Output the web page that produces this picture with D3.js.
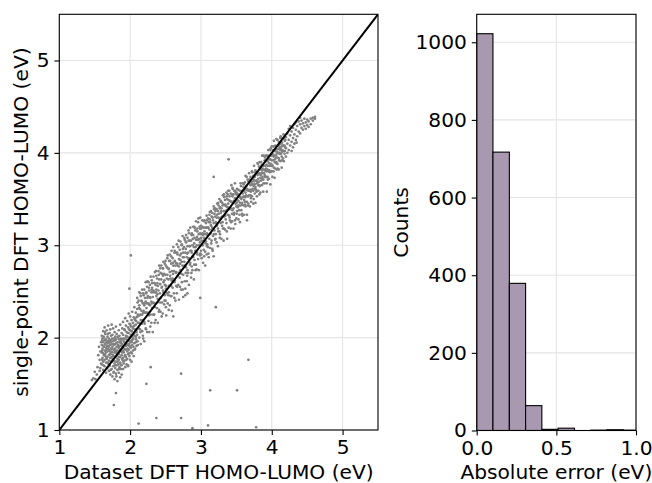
<!DOCTYPE html>
<html><head><meta charset="utf-8">
<script src="https://cdn.jsdelivr.net/npm/d3@7"></script>
<style>body{margin:0;background:#fff} text{font-family:"DejaVu Sans",sans-serif}</style>
</head><body><svg id="c" width="652" height="483"></svg>
<script>
const scatterTicks = [1, 2, 3, 4, 5];
const histXTicks = [0, 0.5, 1.0];
const histYTicks = [0, 200, 400, 600, 800, 1000];
const errorBinEdges = [0, 0.102, 0.205, 0.307, 0.409, 0.511, 0.614, 0.716, 0.818, 0.920, 1.023];
const errorCounts = [1022, 717, 379, 64, 3, 6, 0, 1, 2, 1];
const xLabel = "Dataset DFT HOMO-LUMO (eV)";
const yLabel = "single-point DFT HOMO-LUMO (eV)";
const histXLabel = "Absolute error (eV)";
const histYLabel = "Counts";

// [dataset gap, [single-point gaps...]]
const scatterColumns = [
[1.46,[1.54]],[1.48,[1.56]],[1.50,[1.63]],[1.51,[1.55]],[1.53,[1.60]],[1.54,[1.68]],[1.55,[1.81]],[1.56,[1.90]],[1.57,[1.64,1.76]],[1.58,[1.85,1.67]],[1.59,[1.95,1.72]],
[1.60,[1.92,1.71,2.02,1.84]],[1.61,[1.78,1.99,1.88]],[1.62,[2.07,1.83,1.65,1.95,1.74]],[1.63,[1.90,1.81,2.00]],[1.64,[1.69,1.97,1.86,1.76,2.11]],
[1.65,[1.93,2.04,1.80]],[1.66,[1.73,1.89,1.98,1.62,1.84]],[1.67,[2.08,1.91,1.77]],[1.68,[1.85,1.67,1.96,2.01,1.79]],[1.69,[1.94,1.72,1.88,2.13]],
[1.70,[1.81,1.99,1.64,1.90,1.75]],[1.71,[2.05,1.86,1.70,1.95]],[1.72,[1.78,1.92,1.60,2.09,1.83]],[1.73,[1.97,1.74,1.88,2.02]],[1.74,[1.66,1.85,1.93,1.79,2.14]],
[1.75,[1.90,1.58,2.03,1.77,1.84]],[1.76,[1.69,1.96,1.81,2.10]],[1.77,[1.87,1.63,1.75,1.99,1.92]],[1.78,[2.06,1.72,1.84,1.55]],[1.79,[1.93,1.79,1.67,2.01,1.88]],
[1.80,[1.74,1.98,1.61,1.85,2.12]],[1.81,[1.90,1.70,1.80,2.04]],[1.82,[1.65,1.95,1.77,1.86,1.53]],[1.83,[2.00,1.83,1.71,1.92]],[1.84,[1.76,2.08,1.62,1.89,1.82]],
[1.85,[1.95,1.68,1.86,2.02]],[1.86,[1.79,1.57,1.91,1.73,2.14]],[1.87,[1.99,1.85,1.66,1.94]],[1.88,[1.70,2.05,1.81,1.88,1.60]],[1.89,[1.93,1.76,2.10,1.84]],
[1.90,[1.78,2.03,1.90,1.66,2.17]],[1.91,[1.96,1.84,1.72]],[1.92,[2.09,1.88,1.99,1.75]],[1.93,[1.81,2.21,1.93,1.68]],[1.94,[2.02,1.87,2.13,1.79]],
[1.95,[1.93,1.71,2.06,1.98]],[1.96,[1.85,2.18,1.77,2.01]],[1.97,[2.11,1.92,1.82,1.69]],[1.98,[1.97,2.26,1.87,2.05]],[1.99,[1.80,2.00,2.15,1.91]],
[2.00,[2.08,1.76,1.95,2.23]],[2.01,[1.89,2.03,1.84,2.12]],[2.02,[2.19,1.97,1.74,2.07]],[2.03,[1.92,2.28,2.01]],[2.04,[2.10,1.86,2.16,1.98]],
[2.05,[2.03,2.22,1.80]],[2.06,[1.94,2.13,2.33,2.05]],[2.07,[2.19,1.88,2.09]],[2.08,[2.01,2.27,1.95,2.14]],[2.09,[2.22,1.91,2.06]],
[2.10,[2.31,2.03,2.43]],[2.11,[2.16,1.92,2.25]],[2.12,[2.40,2.10]],[2.13,[2.24,2.49,2.00,2.35]],[2.14,[2.09,2.31]],
[2.15,[2.45,2.19,1.93]],[2.16,[2.29,2.40]],[2.17,[2.07,2.52,2.25]],[2.18,[2.37,2.02,2.19]],[2.19,[2.46,2.29]],
[2.20,[2.17,2.52,2.35,1.96]],[2.21,[2.43,2.27]],[2.22,[2.10,2.60,2.39]],[2.23,[2.32,2.49]],[2.24,[2.06,2.37,2.55]],
[2.25,[2.27,2.45]],[2.26,[2.60,2.18,2.37]],[2.27,[2.51,2.06]],[2.28,[2.35,2.57,2.44]],[2.29,[2.25,2.66]],
[2.30,[2.49,2.16,2.39]],[2.31,[2.59,2.32,2.54]],[2.32,[2.06,2.44]],[2.33,[2.66,2.38,2.51]],[2.34,[2.25,2.59]],
[2.35,[2.49,2.71,2.33]],[2.36,[2.57,2.19]],[2.37,[2.45,2.67,2.52]],[2.38,[2.32,2.64]],[2.39,[2.56,2.16,2.42]],
[2.40,[2.72,2.51]],[2.41,[2.30,2.63,2.78]],[2.42,[2.48,2.58]],[2.43,[2.70,2.28,2.43]],[2.44,[2.63,2.78]],
[2.45,[2.38,2.55,2.69]],[2.46,[2.75,2.26]],[2.47,[2.60,2.49,2.82]],[2.48,[2.36,2.69]],[2.49,[2.57,2.80,2.46]],
[2.50,[2.68,2.40,2.83]],[2.51,[2.56,2.24]],[2.52,[2.76,2.64,2.48]],[2.53,[2.89,2.37]],[2.54,[2.63,2.75,2.46]],
[2.55,[2.83,2.56]],[2.56,[2.35,2.71,2.90]],[2.57,[2.64,2.45]],[2.58,[2.80,2.88,2.56]],[2.59,[2.72,2.29]],
[2.60,[2.86,2.54,2.64]],[2.61,[2.78,2.23,2.98]],[2.62,[2.48,2.72]],[2.63,[2.94,2.83,2.62]],[2.64,[2.40,2.78]],
[2.65,[2.71,2.92,2.56]],[2.66,[3.01,2.48]],[2.67,[2.78,2.90,2.67]],[2.68,[2.57,2.98]],[2.69,[2.85,2.41,2.77]],
[2.70,[2.95,2.65]],[2.71,[2.73,3.04,2.84]],[2.72,[2.52,2.91]],[2.73,[2.82,2.60,3.01]],[2.74,[3.10,2.78]],
[2.75,[2.68,2.92,2.44]],[2.76,[2.98,2.87]],[2.77,[2.61,3.06,2.78]],[2.78,[2.92,2.53]],[2.79,[3.03,2.76,3.11]],
[2.80,[2.87,2.61]],[2.81,[2.99,3.08,2.73]],[2.82,[2.70,2.92]],[2.83,[3.13,2.86,2.57]],[2.84,[2.99,3.05]],
[2.85,[2.81,3.19,2.94]],[2.86,[2.65,3.05]],[2.87,[3.13,2.92,2.77]],[2.88,[3.00,2.73]],[2.89,[3.11,3.20,2.87]],
[2.90,[2.98,2.63]],[2.91,[3.08,2.84,3.19]],[2.92,[2.94,3.16]],[2.93,[2.79,3.06,3.26]],[2.94,[3.00,2.74]],
[2.95,[3.15,2.90,3.06]],[2.96,[3.25,2.85]],[2.97,[3.12,3.00,2.73]],[2.98,[3.20,3.07]],[2.99,[2.91,3.30,3.13]],
[3.00,[3.12,2.94,3.21]],[3.01,[2.86,3.05]],[3.02,[3.20,3.00,3.27]],[3.03,[3.11,2.81]],[3.04,[3.19,2.95,3.05]],
[3.05,[3.27,3.15]],[3.06,[2.93,3.12,2.78]],[3.07,[3.24,3.04]],[3.08,[3.19,3.32,2.90]],[3.09,[3.11,3.01]],
[3.10,[3.29,2.98,3.19]],[3.11,[3.25,2.87]],[3.12,[3.07,3.33,3.17]],[3.13,[3.25,2.97]],[3.14,[3.37,3.13,3.22]],
[3.15,[3.05,3.31]],[3.16,[3.19,2.96,3.35]],[3.17,[3.27,3.10]],[3.18,[3.42,2.88,3.24]],[3.19,[3.34,3.16]],
[3.20,[3.06,3.31,3.40]],[3.21,[3.25,3.12]],[3.22,[3.39,3.03,3.30]],[3.23,[3.45,3.23]],[3.24,[3.18,3.37,2.99]],
[3.25,[3.34,3.43]],[3.26,[3.15,3.29,3.50]],[3.27,[3.41,3.12]],[3.28,[3.35,3.24,3.48]],[3.29,[3.07,3.40]],
[3.30,[3.46,3.31,3.21]],[3.31,[3.54,3.18]],[3.32,[3.37,3.44,3.05]],[3.33,[3.31,3.52]],[3.34,[3.43,3.17,3.49]],
[3.35,[3.37,3.28]],[3.36,[3.57,3.24,3.42]],[3.37,[3.50,3.07]],[3.38,[3.33,3.55,3.41]],[3.39,[3.49,3.19]],
[3.40,[3.59,3.32,3.40]],[3.41,[3.48,3.27]],[3.42,[3.56,3.40,3.18]],[3.43,[3.65,3.47]],[3.44,[3.34,3.55,3.26]],
[3.45,[3.46,3.61]],[3.46,[3.40,3.18,3.55]],[3.47,[3.59,3.35]],[3.48,[3.51,3.67,3.27]],[3.49,[3.45,3.57]],
[3.50,[3.42,3.55,3.29]],[3.51,[3.49,3.37,3.61]],[3.52,[3.41,3.54]],[3.53,[3.28,3.48,3.60]],[3.54,[3.38,3.53]],
[3.55,[3.59,3.46,3.25]],[3.56,[3.43,3.67,3.52]],[3.57,[3.38,3.50]],[3.58,[3.59,3.46,3.34]],[3.59,[3.56,3.67]],
[3.60,[3.43,3.52,3.63]],[3.61,[3.33,3.59,3.49]],[3.62,[3.68,3.47]],[3.63,[3.57,3.42,3.75]],[3.64,[3.54,3.64]],
[3.65,[3.47,3.61,3.33]],[3.66,[3.71,3.53]],[3.67,[3.59,3.45,3.69]],[3.68,[3.54,3.67,3.78]],[3.69,[3.42,3.60]],
[3.70,[3.65,3.54,3.74]],[3.71,[3.60,3.47]],[3.72,[3.80,3.69,3.53]],[3.73,[3.61,3.66]],[3.74,[3.45,3.75,3.59]],
[3.75,[3.69,3.86]],[3.76,[3.56,3.66,3.74]],[3.77,[3.81,3.63,3.46]],[3.78,[3.70,3.60]],[3.79,[3.79,3.67,3.53]],
[3.80,[3.76,3.89]],[3.81,[3.65,3.72,3.59]],[3.82,[3.85,3.69]],[3.83,[3.77,3.64,3.90]],[3.84,[3.73,3.57,3.82]],
[3.85,[3.90,3.70]],[3.86,[3.78,3.65,3.87]],[3.87,[3.74,3.83]],[3.88,[3.97,3.71,3.58]],[3.89,[3.82,3.78]],
[3.90,[3.92,3.67,3.76]],[3.91,[3.86,3.97]],[3.92,[3.74,3.83,3.91]],[3.93,[3.67,3.97]],[3.94,[3.82,3.91,3.74]],
[3.95,[4.03,3.80]],[3.96,[3.89,3.72,3.96]],[3.97,[3.86,3.79]],[3.98,[4.03,3.93,3.66]],[3.99,[3.86,3.97]],
[4.00,[3.80,3.92,4.07]],[4.01,[3.86,3.74]],[4.02,[4.03,3.92,3.98]],[4.03,[3.84,4.13]],[4.04,[3.97,3.90,3.73]],
[4.05,[4.08,3.83]],[4.06,[3.95,4.04,3.89]],[4.07,[4.01,3.82]],[4.08,[4.14,3.95,3.88]],[4.09,[4.00,4.08]],
[4.10,[3.94,3.82,4.12]],[4.11,[4.06,3.99]],[4.12,[3.91,4.16,4.03]],[4.13,[3.99,4.10]],[4.14,[3.96,4.07,3.84]],
[4.15,[4.16,4.03]],[4.16,[3.94,4.08]],[4.17,[4.02,4.15,3.91]],[4.18,[4.08,3.99]],[4.19,[4.14,4.06]],
[4.20,[4.17,4.05,3.96]],[4.22,[4.21,4.10,4.00]],[4.24,[4.14,4.26,4.03]],[4.26,[4.19,4.08,4.29]],[4.28,[4.23,4.12,4.02]],
[4.30,[4.27,4.16,4.06]],[4.32,[4.20,4.31,4.10]],[4.34,[4.25,4.14,4.33]],[4.36,[4.29,4.18]],[4.38,[4.23,4.34]],
[4.40,[4.31,4.21,4.38]],[4.42,[4.27,4.35]],[4.44,[4.32,4.25]],[4.46,[4.37,4.29]],[4.48,[4.33,4.26]],
[4.50,[4.36,4.30]],[4.52,[4.34,4.28]],[4.55,[4.37,4.31]],[4.58,[4.35,4.38]],[4.61,[4.39,4.37]]
];

// further points read between the columns above
const scatterColumnsExtra = [
[1.605,[1.86,1.97,1.76]],[1.625,[1.91,1.70,2.01]],[1.645,[1.82,1.93,2.06]],[1.665,[1.95,1.78,1.87]],[1.685,[1.73,1.91,2.04]],
[1.705,[1.86,1.97,1.69]],[1.725,[1.95,1.82,1.65]],[1.745,[1.88,1.99,1.74]],[1.765,[1.80,1.93,1.62]],[1.785,[1.97,1.70,1.87]],
[1.805,[1.83,1.94,1.58]],[1.825,[1.90,1.74,2.01]],[1.845,[1.79,1.98,1.66]],[1.865,[1.87,1.96,1.71]],[1.885,[1.98,1.77,1.91]],
[1.905,[1.86,1.99,1.74]],[1.925,[1.95,1.80,2.08]],[1.945,[1.91,2.01,1.76]],[1.965,[2.05,1.88,1.97]],[1.985,[1.93,2.09,1.83]],
[2.005,[2.00,1.90,2.14]],[2.025,[2.07,1.95,1.83]],[2.045,[1.99,2.12,1.90]],[2.065,[2.20,2.02,1.87]],[2.085,[2.08,1.98,2.18]],
[2.105,[2.23,1.96,2.38]],[2.125,[2.16,2.32]],[2.145,[2.06,2.48,2.25]],[2.165,[2.39,2.15]],[2.185,[2.27,2.48,1.99]],
[2.205,[2.37,2.15]],[2.225,[2.48,2.27,2.09]],[2.245,[2.61,2.43]],[2.265,[2.24,2.36,2.54]],[2.285,[2.43,2.12]],
[2.305,[2.62,2.37,2.52]],[2.325,[2.25,2.49]],[2.345,[2.59,2.37,2.16]],[2.365,[2.49,2.72]],[2.385,[2.38,2.59,2.47]],
[2.405,[2.68,2.28]],[2.425,[2.58,2.75,2.38]],[2.445,[2.54,2.23]],[2.465,[2.67,2.51,2.75]],[2.485,[2.62,2.40]],
[2.505,[2.78,2.53,2.33]],[2.525,[2.68,2.86]],[2.545,[2.49,2.74,2.30]],[2.565,[2.67,2.83]],[2.585,[2.62,2.45,2.94]],
[2.605,[2.81,2.69]],[2.625,[2.60,2.92,2.43]],[2.645,[2.81,2.70]],[2.665,[2.92,2.55,2.80]],[2.685,[3.05,2.70]],
[2.705,[2.55,2.89,2.80]],[2.725,[3.00,2.69]],[2.745,[2.87,2.52,2.96]],[2.765,[2.82,3.08]],[2.785,[2.70,2.96,3.04]],
[2.805,[2.91,2.67]],[2.825,[3.05,2.85,3.16]],[2.845,[2.79,2.99]],[2.865,[3.11,2.70,2.94]],[2.885,[3.07,2.88]],
[2.905,[3.20,3.02,2.79]],[2.925,[2.98,2.73]],[2.945,[3.18,3.09,2.92]],[2.965,[3.06,3.29]],[2.985,[2.89,3.18,3.03]],
[3.005,[3.08,3.18,2.90]],[3.025,[3.00,3.13]],[3.045,[3.26,2.88,3.08]],[3.065,[3.19,3.02]],[3.085,[3.13,3.27,2.99]],
[3.105,[2.91,3.19]],[3.125,[3.28,3.12,3.36]],[3.145,[3.21,3.02]],[3.165,[3.30,3.17,2.94]],[3.185,[3.39,3.12]],
[3.205,[3.24,3.37,3.07]],[3.225,[3.33,3.21]],[3.245,[3.46,3.15,3.30]],[3.265,[3.08,3.40]],[3.285,[3.37,3.30,3.47]],
[3.305,[3.25,3.43]],[3.325,[3.55,3.18,3.37]],[3.345,[3.44,3.32]],[3.365,[3.53,3.15,3.38]],[3.385,[3.45,3.59]],
[3.405,[3.30,3.53,3.39]],[3.425,[3.47,3.25]],[3.445,[3.62,3.38,3.53]],[3.465,[3.48,3.33]],[3.485,[3.59,3.48,3.23]],
[3.505,[3.46,3.34,3.57]],[3.525,[3.43,3.55]],[3.545,[3.52,3.33,3.43]],[3.565,[3.64,3.51]],[3.585,[3.44,3.58,3.32]],
[3.605,[3.53,3.66]],[3.625,[3.44,3.52,3.61]],[3.645,[3.60,3.74]],[3.665,[3.53,3.43,3.60]],[3.685,[3.71,3.59]],
[3.705,[3.51,3.68,3.58]],[3.725,[3.66,3.79]],[3.745,[3.64,3.50,3.71]],[3.765,[3.61,3.79]],[3.785,[3.70,3.58,3.78]],
[3.805,[3.68,3.88]],[3.825,[3.78,3.65,3.55]],[3.845,[3.85,3.76]],[3.865,[3.72,3.81,3.97]],[3.885,[3.67,3.86]],
[3.905,[3.81,3.74,3.95]],[3.925,[3.87,3.80]],[3.945,[3.97,3.86,3.71]],[3.965,[3.81,3.93]],[3.985,[3.88,4.05,3.80]],
[4.005,[3.99,3.87]],[4.025,[3.80,3.96,4.07]],[4.045,[3.93,4.02]],[4.065,[3.90,4.15,3.98]],[4.085,[4.04,3.83]],
[4.105,[4.00,4.09,3.92]],[4.125,[4.18,4.05]],[4.145,[4.01,4.11,3.92]],[4.165,[4.08,4.20]],[4.185,[4.02,4.13]]
];

const outlierPoints = [
[2.01,2.89],[3.18,3.74],[3.39,3.93],[2.99,2.43],[3.21,2.33],[1.99,2.53],[3.67,1.76],[2.72,1.61],
[2.29,1.68],[2.23,1.50],[3.13,1.43],[3.51,1.43],[1.80,1.40],[1.77,1.27],[2.37,1.13],[2.72,1.13],
[2.12,1.07],[3.10,1.05],[2.88,1.02],[3.78,1.03],[1.97,1.70],[2.81,2.48],[2.78,2.46],[3.65,3.27],
[3.93,3.58],[4.35,4.11]
];

const points = scatterColumns.concat(scatterColumnsExtra)
  .flatMap(([xv, ys]) => ys.map(yv => [xv, yv])).concat(outlierPoints);

const FS = 20.2, TICK = 4.9, PAD = 4.9;
const gridColor = "#e5e5e5";
const svg = d3.select("#c");
svg.append("rect").attr("width", 652).attr("height", 483).attr("fill", "#fff");

const L = {left: 59.3, right: 378, top: 14.3, bottom: 430};
const H = {left: 476.7, right: 636, top: 14.3, bottom: 430.5};
const x = d3.scaleLinear().domain([1, 5.5]).range([L.left, L.right]);
const y = d3.scaleLinear().domain([1, 5.5]).range([L.bottom, L.top]);
const hx = d3.scaleLinear().domain([0, 1]).range([H.left, H.right]);
const hy = d3.scaleLinear().domain([0, 1072]).range([H.bottom, H.top]);

const defs = svg.append("defs");
defs.append("clipPath").attr("id", "clipL").append("rect")
  .attr("x", L.left).attr("y", L.top).attr("width", L.right - L.left).attr("height", L.bottom - L.top);
defs.append("clipPath").attr("id", "clipH").append("rect")
  .attr("x", H.left).attr("y", H.top).attr("width", H.right - H.left).attr("height", H.bottom - H.top);

// grids
const gL = svg.append("g");
gL.selectAll(".gx").data(scatterTicks).join("line")
  .attr("x1", d => x(d)).attr("x2", d => x(d)).attr("y1", L.top).attr("y2", L.bottom)
  .attr("stroke", gridColor).attr("stroke-width", 1.1);
gL.selectAll(".gy").data(scatterTicks).join("line")
  .attr("y1", d => y(d)).attr("y2", d => y(d)).attr("x1", L.left).attr("x2", L.right)
  .attr("stroke", gridColor).attr("stroke-width", 1.1);
const gH = svg.append("g");
gH.selectAll(".gx").data(histXTicks).join("line")
  .attr("x1", d => hx(d)).attr("x2", d => hx(d)).attr("y1", H.top).attr("y2", H.bottom)
  .attr("stroke", gridColor).attr("stroke-width", 1.1);
gH.selectAll(".gy").data(histYTicks).join("line")
  .attr("y1", d => hy(d)).attr("y2", d => hy(d)).attr("x1", H.left).attr("x2", H.right)
  .attr("stroke", gridColor).attr("stroke-width", 1.1);

// scatter points
svg.append("g").attr("clip-path", "url(#clipL)")
  .selectAll("circle").data(points).join("circle")
  .attr("cx", d => x(d[0])).attr("cy", d => y(d[1])).attr("r", 1.35)
  .attr("fill", "#808080");

// identity line
svg.append("line").attr("clip-path", "url(#clipL)")
  .attr("x1", x(1)).attr("y1", y(1)).attr("x2", x(5.5)).attr("y2", y(5.5))
  .attr("stroke", "#000").attr("stroke-width", 2);

// histogram bars
const bins = errorCounts.map((c, i) => ({x0: errorBinEdges[i], x1: errorBinEdges[i + 1], c}));
svg.append("g").attr("clip-path", "url(#clipH)")
  .selectAll("rect").data(bins.filter(b => b.c > 0)).join("rect")
  .attr("x", d => hx(d.x0)).attr("width", d => hx(d.x1) - hx(d.x0))
  .attr("y", d => hy(d.c)).attr("height", d => hy(0) - hy(d.c))
  .attr("fill", "#a999b0").attr("stroke", "#000").attr("stroke-width", 1.1);

// spines
svg.append("rect").attr("x", L.left).attr("y", L.top).attr("width", L.right - L.left).attr("height", L.bottom - L.top)
  .attr("fill", "none").attr("stroke", "#000").attr("stroke-width", 1.1);
svg.append("rect").attr("x", H.left).attr("y", H.top).attr("width", H.right - H.left).attr("height", H.bottom - H.top)
  .attr("fill", "none").attr("stroke", "#000").attr("stroke-width", 1.1);

function styleAxis(g) {
  g.select(".domain").remove();
  g.selectAll(".tick line").attr("stroke", "#000").attr("stroke-width", 1.1);
  g.selectAll(".tick text").attr("font-size", FS).attr("fill", "#000").attr("font-family", "DejaVu Sans");
}
svg.append("g").attr("transform", `translate(0,${L.bottom})`)
  .call(d3.axisBottom(x).tickValues(scatterTicks).tickFormat(d3.format("d")).tickSize(TICK).tickPadding(PAD)).call(styleAxis);
svg.append("g").attr("transform", `translate(${L.left},0)`)
  .call(d3.axisLeft(y).tickValues(scatterTicks).tickFormat(d3.format("d")).tickSize(TICK).tickPadding(PAD)).call(styleAxis);
svg.append("g").attr("transform", `translate(0,${H.bottom})`)
  .call(d3.axisBottom(hx).tickValues(histXTicks).tickFormat(d3.format(".1f")).tickSize(TICK).tickPadding(PAD)).call(styleAxis);
svg.append("g").attr("transform", `translate(${H.left},0)`)
  .call(d3.axisLeft(hy).tickValues(histYTicks).tickFormat(d3.format("d")).tickSize(TICK).tickPadding(PAD)).call(styleAxis);

// labels
svg.append("text").attr("x", (L.left + L.right) / 2).attr("y", 479).attr("text-anchor", "middle")
  .attr("font-size", FS).text(xLabel);
svg.append("text").attr("transform", `translate(27.5,${(L.top + L.bottom) / 2}) rotate(-90)`).attr("text-anchor", "middle")
  .attr("font-size", FS).text(yLabel);
svg.append("text").attr("x", (H.left + H.right) / 2).attr("y", 479).attr("text-anchor", "middle")
  .attr("font-size", FS).text(histXLabel);
svg.append("text").attr("transform", `translate(407.5,${(H.top + H.bottom) / 2}) rotate(-90)`).attr("text-anchor", "middle")
  .attr("font-size", FS).text(histYLabel);
</script></body></html>
